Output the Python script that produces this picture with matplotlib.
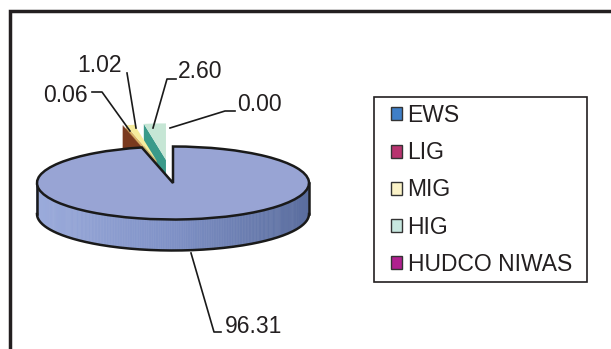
import numpy as np
import matplotlib
matplotlib.use('Agg')
import matplotlib.pyplot as plt
from matplotlib.patches import Polygon, Patch, Rectangle
from matplotlib.transforms import Affine2D
from matplotlib.colors import LinearSegmentedColormap

plt.rcParams['font.family'] = ['Liberation Sans', 'DejaVu Sans']

# ---- data ----
categories = ['EWS', 'LIG', 'MIG', 'HIG', 'HUDCO NIWAS']
values = [96.31, 0.06, 1.02, 2.60, 0.00]
value_labels = ['96.31', '0.06', '1.02', '2.60', '0.00']
explode = [0.0, 0.62, 0.62, 0.635, 0.62]

top_colors = ['#98a4d4', '#7a3a1f', '#f6ec9c', '#c6e6d5', '#b0208f']
face_colors = ['#7b8cc0', '#7a3a1f', '#d9b36a', '#3a9a8a', '#8a1a70']
legend_colors = ['#3f7fc8', '#b8336f', '#fbf3c8', '#c8e8e0', '#b0208f']

W, H = 611, 349
fig = plt.figure(figsize=(W / 100, H / 100), dpi=100)
ax = fig.add_axes([0, 0, 1, 1])
wedges, _ = ax.pie(values, startangle=90, counterclock=False, explode=explode,
                   colors=top_colors, wedgeprops=dict(linewidth=0))
ax.set_aspect('auto')
ax.set_xlim(0, W)
ax.set_ylim(H, 0)
ax.axis('off')

# 3D projection geometry (pixel space)
cx, cy, a, b, depth = 173.0, 183.0, 136.0, 36.5, 31.0
proj = Affine2D().scale(a, -b).translate(cx, cy)


def P(center, r, th):
    t = np.deg2rad(th)
    x = center[0] + r * np.cos(t)
    y = center[1] + r * np.sin(t)
    return (cx + a * x, cy - b * y)


def down(p):
    return (p[0], p[1] + depth)


# ---- small exploded slices (behind) ----
z = 2
for i in [4, 3, 2, 1]:
    w = wedges[i]
    if values[i] <= 0:
        w.set_visible(False)
        continue
    c, r = w.center, w.r
    th_left = w.theta2
    p0 = P(c, 0, 0)
    p1 = P(c, r, th_left)
    face = Polygon([p0, p1, down(p1), down(p0)], closed=True,
                   facecolor=face_colors[i], edgecolor='none', zorder=z)
    ax.add_patch(face)
    w.set_transform(proj + ax.transData)
    w.set_zorder(z + 0.5)
    z += 1

# ---- EWS side wall ----
w = wedges[0]
c, r = w.center, w.r
cmap = LinearSegmentedColormap.from_list('side', ['#9babdb', '#7f91c6', '#5a6d9e'])
ths = np.linspace(-180, 0, 241)
for k in range(len(ths) - 1):
    q0 = P(c, r, ths[k])
    q1 = P(c, r, ths[k + 1])
    t = ((q0[0] + q1[0]) / 2 - (cx - a)) / (2 * a)
    ax.add_patch(Polygon([q0, q1, down(q1), down(q0)], closed=True,
                         facecolor=cmap(t), edgecolor=cmap(t), lw=0.4, zorder=10))
bottom = [down(P(c, r, th)) for th in ths]
ax.plot([p[0] for p in bottom], [p[1] for p in bottom], color='#1a1a1a', lw=1.8, zorder=11)
for th in (-180, 0):
    p = P(c, r, th)
    ax.plot([p[0], p[0]], [p[1], p[1] + depth], color='#1a1a1a', lw=1.8, zorder=11)

w.set_transform(proj + ax.transData)
w.set_edgecolor('#1a1a1a')
w.set_linewidth(1.8)
w.set_zorder(12)

# ---- labels with leader lines ----
lc = '#1a1a1a'
fs = 16.5
lbl_specs = {
    0: dict(xy=(225, 333), ha='left', line=[(191, 253), (214, 332), (221, 332)]),
    1: dict(xy=(88, 102), ha='right', line=[(92, 92), (102, 92), (130, 131)]),
    2: dict(xy=(122, 72), ha='right', line=[(127, 73), (136, 128)]),
    3: dict(xy=(178, 78), ha='left', line=[(176, 79), (167, 79), (153, 128)]),
    4: dict(xy=(237, 111), ha='left', line=[(235, 111), (225, 111), (170, 128)]),
}
for i, spec in lbl_specs.items():
    xs = [p[0] for p in spec['line']]
    ys = [p[1] for p in spec['line']]
    ax.plot(xs, ys, color=lc, lw=1.2, zorder=20)
    ax.text(spec['xy'][0], spec['xy'][1], value_labels[i], ha=spec['ha'],
            va='baseline', fontsize=fs, color='#231f20', zorder=21)

# ---- outer frame (open at right/bottom) ----
ax.plot([9.5, 9.5, W + 5], [H + 5, 11, 11], color='#231f20', lw=2.5,
        solid_joinstyle='miter', zorder=30, clip_on=False)

# ---- legend ----
ax.add_patch(Rectangle((374, 97), 213, 185, facecolor='white',
                       edgecolor='#231f20', lw=1.2, zorder=25))
handles = [Patch(facecolor=legend_colors[i], edgecolor='#333333', lw=1.0)
           for i in range(len(categories))]
leg = fig.legend(handles, categories, loc='upper left',
                 bbox_to_anchor=(391 / W, 1 - 104 / H), borderaxespad=0,
                 frameon=False, fontsize=16.5,
                 handlelength=0.5, handleheight=0.5, handletextpad=0.22,
                 labelspacing=0.62, borderpad=0.0)
leg.set_zorder(40)
for t in leg.get_texts():
    t.set_color('#231f20')

fig.savefig('out.png', dpi=100)
